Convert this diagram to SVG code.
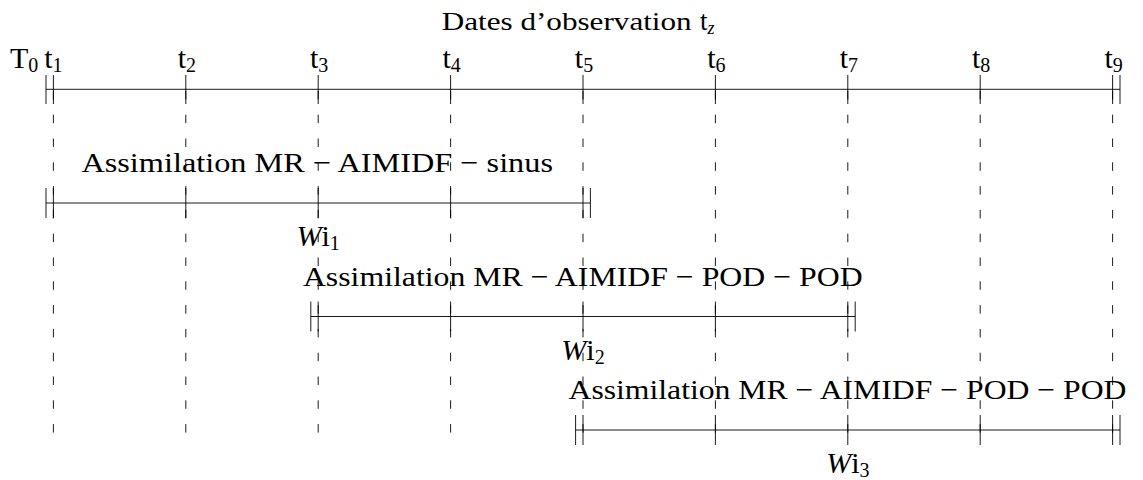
<svg xmlns="http://www.w3.org/2000/svg" width="1143" height="480" viewBox="0 0 1143 480">
<style>
text{font-family:"Liberation Serif","Times New Roman",serif;fill:#000}
.tl{font-size:30px}
.sub{font-size:20px}
.as{font-size:28px}
.wi{font-size:30px}
.ln{stroke:#000;stroke-width:0.9;fill:none}
.tk{stroke:#000;stroke-width:0.9;fill:none}
.dash{stroke:#000;stroke-width:0.9;fill:none;stroke-dasharray:8.5 15.3}
</style>
<rect width="1143" height="480" fill="#fff"/>
<g id="connectors">
<line class="dash" x1="53.4" y1="90.9" x2="53.4" y2="440"/>
<line class="dash" x1="185.8" y1="90.9" x2="185.8" y2="440"/>
<line class="dash" x1="318.2" y1="90.9" x2="318.2" y2="440"/>
<line class="dash" x1="450.6" y1="90.9" x2="450.6" y2="440"/>
<line class="dash" x1="583.0" y1="90.9" x2="583.0" y2="440"/>
<line class="dash" x1="715.4" y1="90.9" x2="715.4" y2="440"/>
<line class="dash" x1="847.8" y1="90.9" x2="847.8" y2="440"/>
<line class="dash" x1="980.2" y1="90.9" x2="980.2" y2="440"/>
<line class="dash" x1="1112.6" y1="90.9" x2="1112.6" y2="440"/>
</g>
<g id="axis">
<text x="441.7" y="30" font-size="26" textLength="250" lengthAdjust="spacingAndGlyphs">Dates d’observation</text>
<text x="700" y="30" font-size="27">t<tspan dy="4" font-size="18" font-style="italic">z</tspan></text>
<line class="ln" x1="46" y1="89.3" x2="1120" y2="89.3"/>
<line class="tk" x1="46" y1="75" x2="46" y2="104"/>
<line class="tk" x1="53.4" y1="75" x2="53.4" y2="104"/>
<line class="tk" x1="185.8" y1="75" x2="185.8" y2="104"/>
<line class="tk" x1="318.2" y1="75" x2="318.2" y2="104"/>
<line class="tk" x1="450.6" y1="75" x2="450.6" y2="104"/>
<line class="tk" x1="583.0" y1="75" x2="583.0" y2="104"/>
<line class="tk" x1="715.4" y1="75" x2="715.4" y2="104"/>
<line class="tk" x1="847.8" y1="75" x2="847.8" y2="104"/>
<line class="tk" x1="980.2" y1="75" x2="980.2" y2="104"/>
<line class="tk" x1="1112.6" y1="75" x2="1112.6" y2="104"/>
<line class="tk" x1="1120" y1="75" x2="1120" y2="104"/>
<text class="tl" x="10" y="68">T<tspan class="sub" dy="4">0</tspan></text>
<text class="tl" x="53.4" y="68" text-anchor="middle">t<tspan class="sub" dy="4">1</tspan></text>
<text class="tl" x="186.8" y="68" text-anchor="middle">t<tspan class="sub" dy="4">2</tspan></text>
<text class="tl" x="319.2" y="68" text-anchor="middle">t<tspan class="sub" dy="4">3</tspan></text>
<text class="tl" x="451.6" y="68" text-anchor="middle">t<tspan class="sub" dy="4">4</tspan></text>
<text class="tl" x="584.0" y="68" text-anchor="middle">t<tspan class="sub" dy="4">5</tspan></text>
<text class="tl" x="716.4" y="68" text-anchor="middle">t<tspan class="sub" dy="4">6</tspan></text>
<text class="tl" x="848.8" y="68" text-anchor="middle">t<tspan class="sub" dy="4">7</tspan></text>
<text class="tl" x="981.2" y="68" text-anchor="middle">t<tspan class="sub" dy="4">8</tspan></text>
<text class="tl" x="1113.6" y="68" text-anchor="middle">t<tspan class="sub" dy="4">9</tspan></text>
</g>
<g id="window1">
<text class="as" x="81.4" y="172" textLength="471.6" lengthAdjust="spacingAndGlyphs">Assimilation MR − AIMIDF − sinus</text>
<line class="ln" x1="46" y1="203" x2="590.4" y2="203"/>
<line class="tk" x1="46" y1="188" x2="46" y2="218"/>
<line class="tk" x1="53.4" y1="188" x2="53.4" y2="218"/>
<line class="tk" x1="185.8" y1="188" x2="185.8" y2="218"/>
<line class="tk" x1="318.2" y1="188" x2="318.2" y2="218"/>
<line class="tk" x1="450.6" y1="188" x2="450.6" y2="218"/>
<line class="tk" x1="583.0" y1="188" x2="583.0" y2="218"/>
<line class="tk" x1="590.4" y1="188" x2="590.4" y2="218"/>
<text class="wi" x="318.2" y="246" text-anchor="middle"><tspan font-style="italic">W</tspan>i<tspan class="sub" dy="4">1</tspan></text>
</g>
<g id="window2">
<text class="as" x="302.9" y="285.5" textLength="559.8" lengthAdjust="spacingAndGlyphs">Assimilation MR − AIMIDF − POD − POD</text>
<line class="ln" x1="310.8" y1="316.5" x2="855.2" y2="316.5"/>
<line class="tk" x1="310.8" y1="301.5" x2="310.8" y2="331.5"/>
<line class="tk" x1="318.2" y1="301.5" x2="318.2" y2="331.5"/>
<line class="tk" x1="450.6" y1="301.5" x2="450.6" y2="331.5"/>
<line class="tk" x1="583.0" y1="301.5" x2="583.0" y2="331.5"/>
<line class="tk" x1="715.4" y1="301.5" x2="715.4" y2="331.5"/>
<line class="tk" x1="847.8" y1="301.5" x2="847.8" y2="331.5"/>
<line class="tk" x1="855.2" y1="301.5" x2="855.2" y2="331.5"/>
<text class="wi" x="583.0" y="359.5" text-anchor="middle"><tspan font-style="italic">W</tspan>i<tspan class="sub" dy="4">2</tspan></text>
</g>
<g id="window3">
<text class="as" x="568.5" y="399" textLength="558" lengthAdjust="spacingAndGlyphs">Assimilation MR − AIMIDF − POD − POD</text>
<line class="ln" x1="575.6" y1="430" x2="1120" y2="430"/>
<line class="tk" x1="575.6" y1="415" x2="575.6" y2="445"/>
<line class="tk" x1="583.0" y1="415" x2="583.0" y2="445"/>
<line class="tk" x1="715.4" y1="415" x2="715.4" y2="445"/>
<line class="tk" x1="847.8" y1="415" x2="847.8" y2="445"/>
<line class="tk" x1="980.2" y1="415" x2="980.2" y2="445"/>
<line class="tk" x1="1112.6" y1="415" x2="1112.6" y2="445"/>
<line class="tk" x1="1120" y1="415" x2="1120" y2="445"/>
<text class="wi" x="847.8" y="473" text-anchor="middle"><tspan font-style="italic">W</tspan>i<tspan class="sub" dy="4">3</tspan></text>
</g>
</svg>
